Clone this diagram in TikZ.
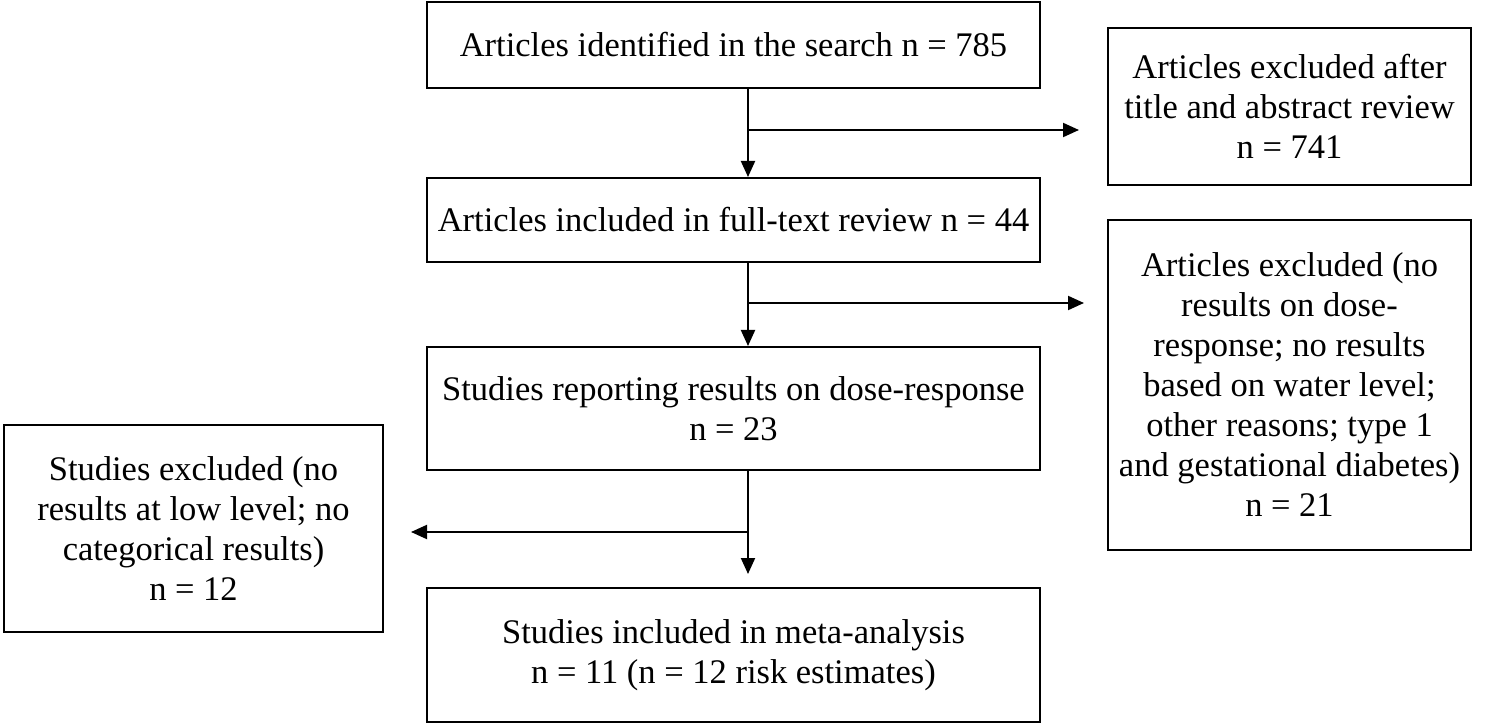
\documentclass[tikz,border=0pt]{standalone}
\usepackage{fontspec}
\setmainfont{Liberation Serif}
\usetikzlibrary{positioning, arrows.meta}

\begin{document}
\begin{tikzpicture}[x=1pt, y=1pt,
    box/.style={rectangle, draw, line width=2pt, align=center, inner sep=0pt,
      font=\fontsize{34.5}{40}\selectfont},
    arrow/.style={-{Triangle[length=16pt,width=14pt]}, line width=2pt}
]
\useasboundingbox (0,0) rectangle (1500,724);

% main column
\node[box, minimum width=613pt, minimum height=86pt] (search) at (733.5,679) {Articles identified in the search n = 785};
\node[box, minimum width=613pt, minimum height=84pt] (fulltext) at (733.5,504) {Articles included in full-text review n = 44};
\node[box, minimum width=613pt, minimum height=123pt] (dose) at (733.5,315.5) {Studies reporting results on dose-response\\n = 23};
\node[box, minimum width=613pt, minimum height=134pt] (meta) at (733.5,69) {Studies included in meta-analysis\\n = 11 (n = 12 risk estimates)};

% exclusions
\node[box, minimum width=363pt, minimum height=157pt] (excltitle) at (1289.5,617.5) {Articles excluded after\\title and abstract review\\n = 741};
\node[box, minimum width=363pt, minimum height=330pt] (excldose) at (1289.5,339) {Articles excluded (no\\results on dose-\\response; no results\\based on water level;\\other reasons; type 1\\and gestational diabetes)\\n = 21};
\node[box, minimum width=379pt, minimum height=207pt] (excllow) at (193.5,195.5) {Studies excluded (no\\results at low level; no\\categorical results)\\n = 12};

% junctions
\coordinate (j1) at (748,594);
\coordinate (j2) at (748,421);
\coordinate (j3) at (748,192);

\draw[arrow] (search.south -| j1) -- (fulltext.north -| j1);
\draw[arrow, shorten >=28pt] (j1) -- (excltitle.west |- j1);
\draw[arrow, shorten >=23pt] (j2) -- (excldose.west |- j2);
\draw[arrow] (fulltext.south -| j2) -- (dose.north -| j2);
\draw[arrow, shorten >=13pt] (dose.south -| j3) -- (meta.north -| j3);
\draw[arrow, shorten >=27pt] (j3) -- (excllow.east |- j3);
\end{tikzpicture}
\end{document}
